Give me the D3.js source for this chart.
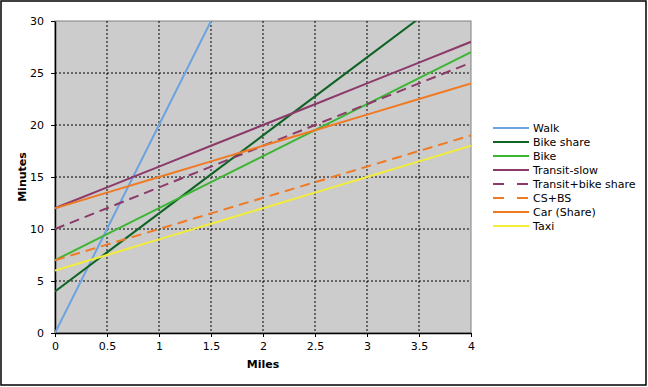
<!DOCTYPE html>
<html>
<head>
<meta charset="utf-8">
<script src="https://cdn.jsdelivr.net/npm/d3@7"></script>
<style>
  body { margin: 0; background: #fff; }
  svg { display: block; font-family: "DejaVu Sans", Verdana, sans-serif; }
</style>
</head>
<body>
<svg id="chart" width="648" height="387"></svg>
<script>
// miles sampled at each x tick
const miles = [0, 0.5, 1, 1.5, 2, 2.5, 3, 3.5, 4];
const walk = [0, 10, 20, 30];
const bikeShare = [4, 7.75, 11.5, 15.25, 19, 22.75, 26.5, 30.25, 34];
const bike = [7, 9.5, 12, 14.5, 17, 19.5, 22, 24.5, 27];
const transitSlow = [12, 14, 16, 18, 20, 22, 24, 26, 28];
const transitBike = [10, 12, 14, 16, 18, 20, 22, 24, 26];
const csBs = [7, 8.5, 10, 11.5, 13, 14.5, 16, 17.5, 19];
const carShare = [12, 13.5, 15, 16.5, 18, 19.5, 21, 22.5, 24];
const taxi = [6, 7.5, 9, 10.5, 12, 13.5, 15, 16.5, 18];

const xTicks = [0, 0.5, 1, 1.5, 2, 2.5, 3, 3.5, 4];
const yTicks = [0, 5, 10, 15, 20, 25, 30];

const series = [
  { name: "Walk", values: walk, color: "#6fa3e0", dash: null },
  { name: "Bike share", values: bikeShare, color: "#0f6424", dash: null },
  { name: "Bike", values: bike, color: "#3cb634", dash: null },
  { name: "Transit-slow", values: transitSlow, color: "#8b3a6a", dash: null },
  { name: "Transit+bike share", values: transitBike, color: "#8b3a6a", dash: "10,6" },
  { name: "CS+BS", values: csBs, color: "#f07a24", dash: "10,6" },
  { name: "Car (Share)", values: carShare, color: "#f07a24", dash: null },
  { name: "Taxi", values: taxi, color: "#f2ec3a", dash: null }
];

const svg = d3.select("#chart");
const pL = 55, pT = 21, pR = 471, pB = 333;

// outer frame
svg.append("rect").attr("x", 1).attr("y", 1).attr("width", 645).attr("height", 384)
  .attr("fill", "#fff").attr("stroke", "#000").attr("stroke-width", 1.5);

const x = d3.scaleLinear().domain([0, 4]).range([pL, pR]);
const y = d3.scaleLinear().domain([0, 30]).range([pB, pT]);

svg.append("rect").attr("x", pL).attr("y", pT)
  .attr("width", pR - pL).attr("height", pB - pT)
  .attr("fill", "#cccccc").attr("stroke", "#808080").attr("stroke-width", 1);

// grid
svg.append("g").selectAll("line").data(xTicks.slice(1, -1)).join("line")
  .attr("x1", d => x(d)).attr("x2", d => x(d)).attr("y1", pT).attr("y2", pB)
  .attr("stroke", "#000").attr("stroke-dasharray", "2,2");
svg.append("g").selectAll("line").data(yTicks.slice(1, -1)).join("line")
  .attr("x1", pL).attr("x2", pR).attr("y1", d => y(d)).attr("y2", d => y(d))
  .attr("stroke", "#000").attr("stroke-dasharray", "2,2");

// axes
const xAxis = svg.append("g").attr("transform", `translate(0,${pB})`)
  .call(d3.axisBottom(x).tickValues(xTicks).tickSize(4).tickSizeOuter(0).tickFormat(d3.format("")));
const yAxis = svg.append("g").attr("transform", `translate(${pL},0)`)
  .call(d3.axisLeft(y).tickValues(yTicks).tickSize(4).tickSizeOuter(0));
[xAxis, yAxis].forEach(a => {
  a.select(".domain").attr("stroke", "#000").attr("stroke-width", 1.5);
  a.selectAll(".tick line").attr("stroke", "#000");
  a.selectAll("text").attr("font-size", 11).attr("fill", "#000")
    .attr("font-family", "DejaVu Sans, Verdana, sans-serif");
});
xAxis.selectAll("text").attr("dy", "0.9em");
yAxis.selectAll("text").attr("dx", "-4");

// clip
svg.append("clipPath").attr("id", "plot").append("rect")
  .attr("x", pL).attr("y", pT).attr("width", pR - pL).attr("height", pB - pT);

const line = d3.line().x((d, i) => x(miles[i])).y(d => y(d));
svg.append("g").attr("clip-path", "url(#plot)")
  .selectAll("path").data(series).join("path")
  .attr("d", d => line(d.values))
  .attr("fill", "none").attr("stroke", d => d.color).attr("stroke-width", 2)
  .attr("stroke-dasharray", d => d.dash);

// axis titles
svg.append("text").attr("x", 263).attr("y", 368).attr("text-anchor", "middle")
  .attr("font-size", 11).attr("font-weight", "bold").text("Miles");
svg.append("text").attr("transform", "translate(26,177) rotate(-90)").attr("text-anchor", "middle")
  .attr("font-size", 11).attr("font-weight", "bold").text("Minutes");

// legend
const legend = svg.append("g").selectAll("g").data(series).join("g")
  .attr("transform", (d, i) => `translate(493,${128 + i * 14})`);
legend.append("line").attr("x1", 0).attr("x2", 36)
  .attr("stroke", d => d.color).attr("stroke-width", 2)
  .attr("stroke-dasharray", d => d.dash ? "11,13" : null);
legend.append("text").attr("x", 40).attr("dy", "0.35em")
  .attr("font-size", 11).text(d => d.name);
</script>
</body>
</html>
